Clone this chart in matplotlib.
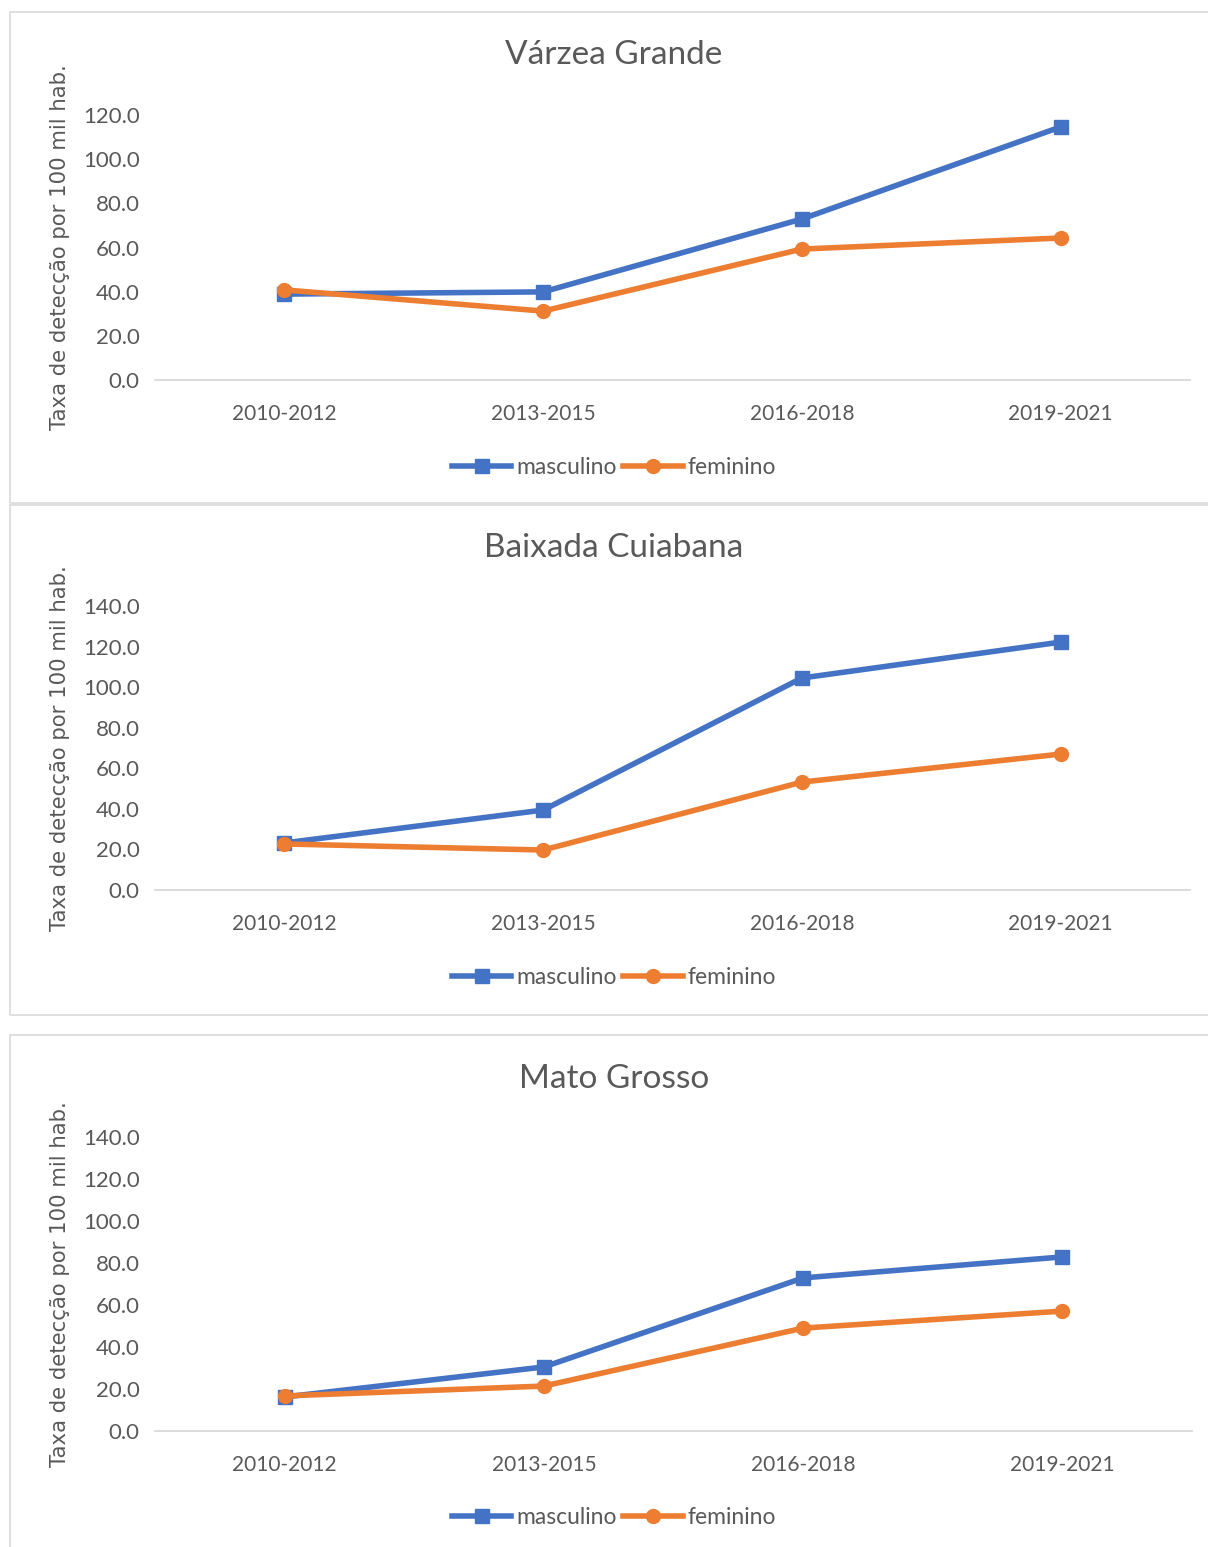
import matplotlib
matplotlib.use("Agg")
import matplotlib.pyplot as plt
from matplotlib.patches import Rectangle
from matplotlib.lines import Line2D

W, H = 1208, 1547
DPI = 100

categories = ["2010-2012", "2013-2015", "2016-2018", "2019-2021"]
titles = ["Várzea Grande", "Baixada Cuiabana", "Mato Grosso"]
masc_vg = [38.9, 39.9, 72.9, 114.6]
fem_vg = [40.8, 31.2, 59.3, 64.3]
masc_bc = [23.2, 39.4, 104.5, 122.2]
fem_bc = [22.7, 19.7, 53.2, 67.0]
masc_mt = [16.2, 30.5, 72.9, 82.9]
fem_mt = [16.7, 21.4, 49.0, 57.1]
ymax = [120, 140, 140]
series_names = ["masculino", "feminino"]
ylabel = "Taxa de detecção por 100 mil hab."

BLUE = "#4472C4"
ORANGE = "#ED7D31"
GRAY = "#595959"
BORDER = "#D9D9D9"
FONT = "Lato"

fig = plt.figure(figsize=(W / DPI, H / DPI), dpi=DPI)


def fx(x):
    return x / W


def fy(y):
    return 1 - y / H


def rect(x0, y0, x1, y1):
    return [fx(x0), fy(y1), (x1 - x0) / W, (y1 - y0) / H]


# panel frames
frames = [(10, 12, 1215, 503), (10, 505, 1215, 1015), (10, 1035, 1215, 1555)]
for (x0, y0, x1, y1) in frames:
    fig.patches.append(Rectangle((fx(x0), fy(y1)), (x1 - x0) / W, (y1 - y0) / H,
                                 transform=fig.transFigure, fill=False,
                                 edgecolor=BORDER, lw=1.2))

panels = [
    dict(ax=(155, 115, 1190, 380), title_y=55, yl=247, leg_y=467,
         m=masc_vg, f=fem_vg),
    dict(ax=(155, 606, 1190, 890), title_y=548, yl=748, leg_y=977,
         m=masc_bc, f=fem_bc),
    dict(ax=(155, 1137, 1192, 1431), title_y=1079, yl=1284, leg_y=1517,
         m=masc_mt, f=fem_mt),
]

x = list(range(len(categories)))
for i, p in enumerate(panels):
    ax = fig.add_axes(rect(*p["ax"]))
    ax.plot(x, p["m"], color=BLUE, lw=4.0, marker="s", ms=10, clip_on=False,
            zorder=3)
    ax.plot(x, p["f"], color=ORANGE, lw=4.0, marker="o", ms=10, clip_on=False,
            zorder=4)
    ax.set_xlim(-0.5, 3.5)
    ax.set_ylim(0, ymax[i])
    ax.set_yticks(range(0, ymax[i] + 1, 20))
    ax.set_yticklabels([f"{v:.1f}" for v in range(0, ymax[i] + 1, 20)],
                       fontsize=16, color=GRAY, family=FONT)
    ax.set_xticks(x)
    ax.set_xticklabels(categories, fontsize=15, color=GRAY, family=FONT)
    ax.tick_params(axis="both", length=0)
    ax.tick_params(axis="y", pad=11)
    ax.tick_params(axis="x", pad=17)
    for s in ["top", "right", "left"]:
        ax.spines[s].set_visible(False)
    ax.spines["bottom"].set_color(BORDER)
    ax.spines["bottom"].set_linewidth(1.3)
    ax.patch.set_alpha(0)

    fig.text(fx(614), fy(p["title_y"]), titles[i], ha="center", va="center",
             fontsize=24, color=GRAY, family=FONT)
    fig.text(fx(60), fy(p["yl"]), ylabel, ha="center", va="center",
             rotation=90, fontsize=15.3, color=GRAY, family="DejaVu Sans")

    handles = [
        Line2D([], [], color=BLUE, lw=4.0, marker="s", ms=10),
        Line2D([], [], color=ORANGE, lw=4.0, marker="o", ms=10),
    ]
    fig.legend(handles, series_names, loc="center",
               bbox_to_anchor=(fx(614), fy(p["leg_y"] + 1)), ncol=2,
               frameon=False, handlelength=2.6, handletextpad=0.2,
               columnspacing=0.3, prop=dict(family=FONT, size=16.5),
               labelcolor=GRAY)

fig.savefig("out.png", dpi=DPI)
